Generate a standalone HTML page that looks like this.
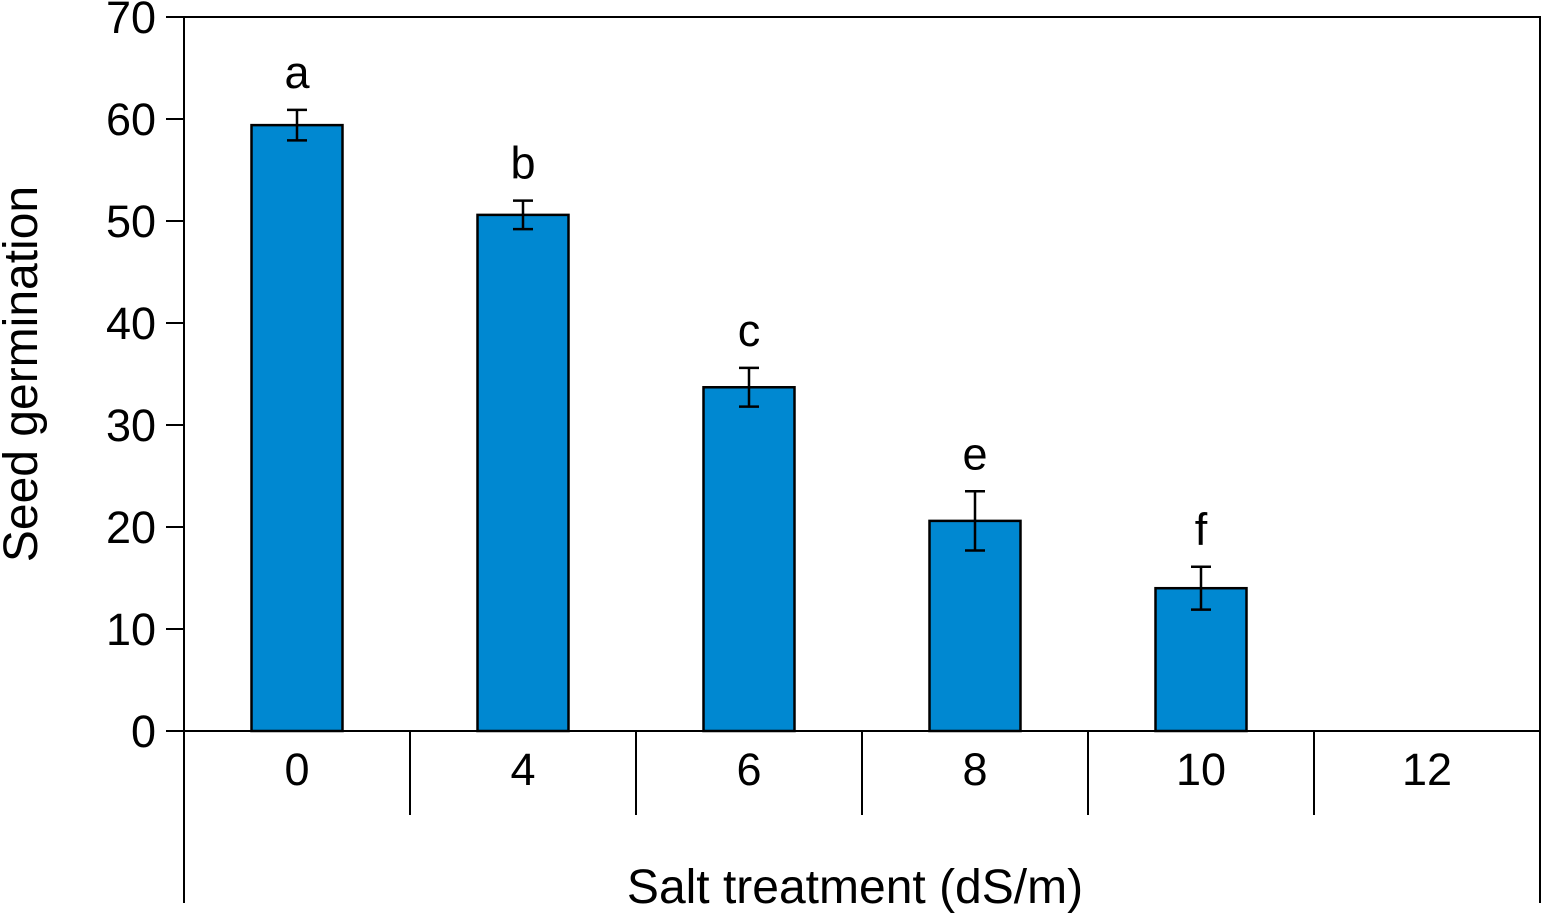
<!DOCTYPE html>
<html><head><meta charset="utf-8"><style>
html,body{margin:0;padding:0;background:#fff}
svg{display:block}
text{font-family:"Liberation Sans",Arial,sans-serif;fill:#000}
</style></head><body>
<svg id="chart" width="1545" height="914" viewBox="0 0 1545 914"></svg>
<script>
const categories=["0","4","6","8","10","12"];
const values=[59.4,50.6,33.7,20.6,14.0,null];
const errors=[1.5,1.4,1.9,2.9,2.1,null];
const letters=["a","b","c","e","f",""];
const yTicks=[0,10,20,30,40,50,60,70];

const NS="http://www.w3.org/2000/svg";
const svg=document.getElementById('chart');
const L=184,R=1540,T=17,B=731;
const yMax=70;
const y=v=>B-(v/yMax)*(B-T);
const cw=(R-L)/categories.length;
const xc=i=>L+cw*(i+0.5);
function mk(tag,attrs,parent){const e=document.createElementNS(NS,tag);for(const k in attrs)e.setAttribute(k,attrs[k]);(parent||svg).appendChild(e);return e;}

const frame=mk('path',{d:`M${L},${903}V${T}H${R}V${903}M${L},${B}H${R}`,fill:'none',stroke:'#000','stroke-width':2});



yTicks.forEach(t=>{
  const ln=mk('line',{x1:166,x2:L,y1:y(t),y2:y(t),stroke:'#000','stroke-width':2});
  
  
  const tx=mk('text',{x:156,y:y(t)+16,'text-anchor':'end','font-size':45});
  tx.textContent=t;
  
  
});

categories.forEach((c,i)=>{
  if(i>0){
    const s=mk('line',{x1:L+cw*i,x2:L+cw*i,y1:B,y2:815,stroke:'#000','stroke-width':2});
    
    
  }
  const tx=mk('text',{x:xc(i),y:785,'text-anchor':'middle','font-size':45});
  tx.textContent=c;
  
  
});

const bw=91;
values.forEach((v,i)=>{
  if(v==null)return;
  const cx=xc(i);
  const r=mk('rect',{x:cx-bw/2,y:y(v),width:bw,height:B-y(v),fill:'#0088d1',stroke:'#000','stroke-width':2.5});
  
  
  const e=errors[i];
  const eb=mk('path',{d:`M${cx},${y(v+e)}V${y(v-e)}M${cx-10},${y(v+e)}H${cx+10}M${cx-10},${y(v-e)}H${cx+10}`,stroke:'#000','stroke-width':2.5,fill:'none'});
  
  
  const lt=mk('text',{x:cx,y:y(v+e)-22,'text-anchor':'middle','font-size':45});
  lt.textContent=letters[i];
  
  
});

const xt=mk('text',{x:855,y:903,'text-anchor':'middle','font-size':48});
xt.textContent='Salt treatment (dS/m)';


const yt=mk('text',{x:0,y:0,'text-anchor':'middle','font-size':48,transform:'translate(37,374) rotate(-90)'});
yt.textContent='Seed germination';


</script>
</body></html>
